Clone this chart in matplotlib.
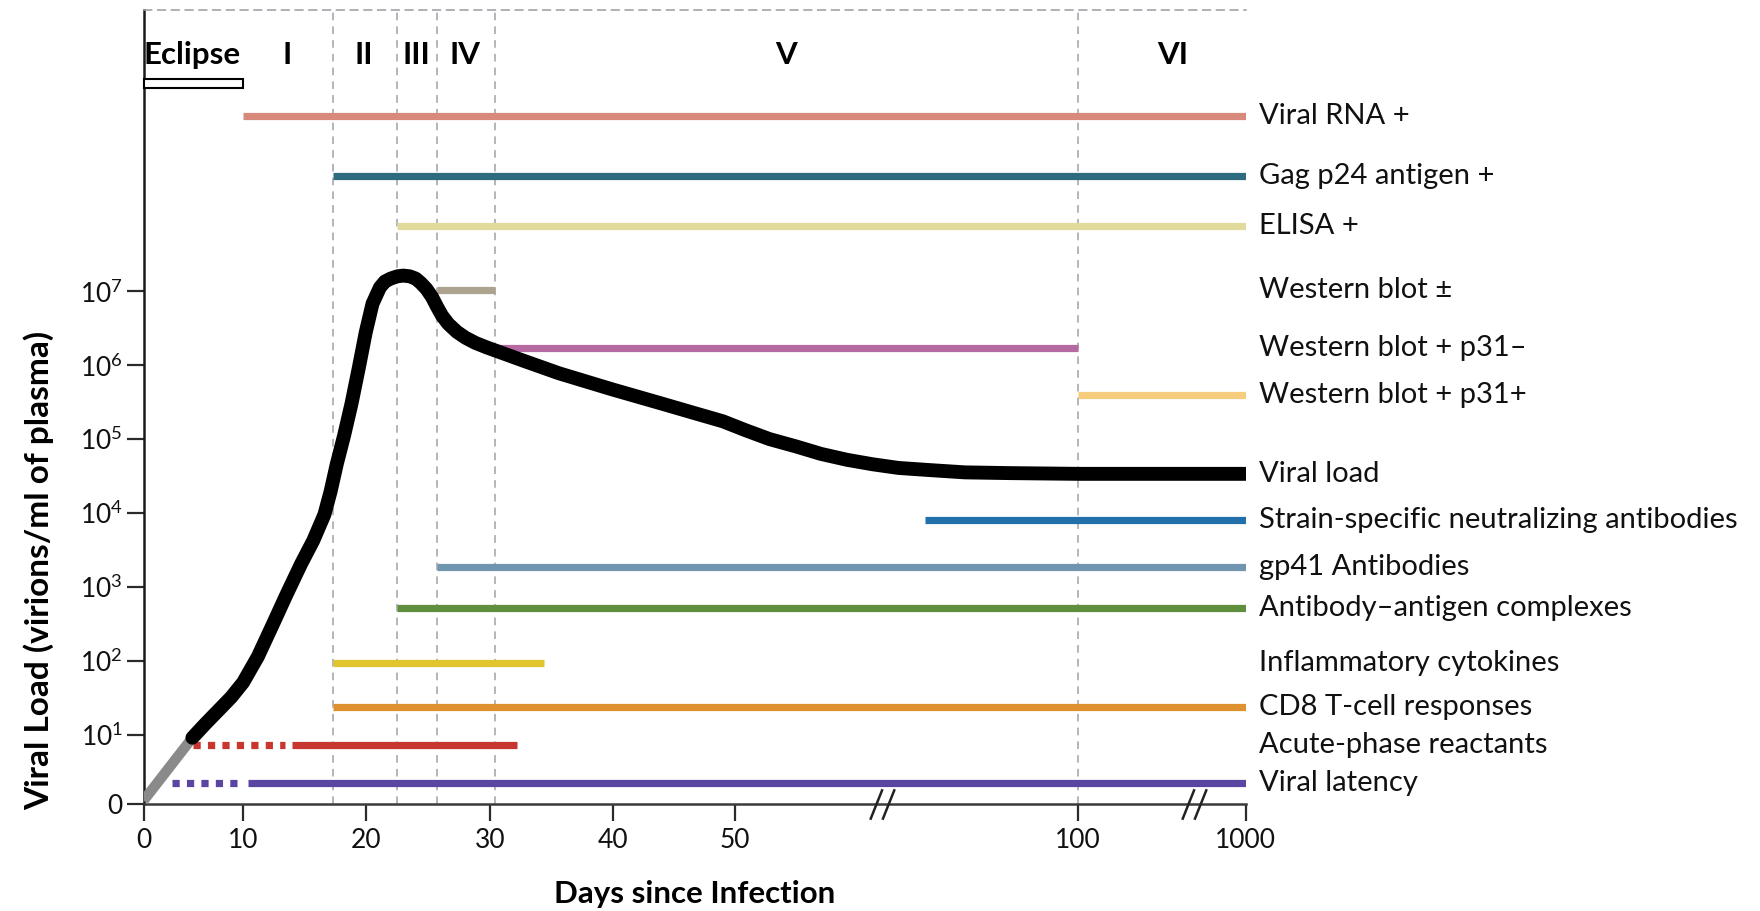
import numpy as np
import matplotlib
matplotlib.use("Agg")
import matplotlib.pyplot as plt
from matplotlib.patches import Rectangle
from matplotlib.path import Path

# ---------------- data ----------------
x_ticks = [0, 10, 20, 30, 40, 50, 100, 1000]
x_ticklabels = ["0", "10", "20", "30", "40", "50", "100", "1000"]
y_ticks = [0, 1, 2, 3, 4, 5, 6, 7]
y_ticklabels = ["0"] + [r"$\mathregular{10^{%d}}$" % k for k in range(1, 8)]

phase_names = ["I", "II", "III", "IV", "V", "VI"]
phase_label_days = [13.6, 19.8, 24.0, 28.0, 57.4, 610]
phase_bounds = [17.26, 22.5, 25.7, 30.4, 100]
eclipse_days = [0, 10]
break_days = [71.4, 723]

marker_names = ["Viral RNA +", "Gag p24 antigen +", "ELISA +", "Western blot \u00b1",
                "Western blot + p31\u2013", "Western blot + p31+",
                "Strain-specific neutralizing antibodies", "gp41 Antibodies",
                "Antibody\u2013antigen complexes", "Inflammatory cytokines",
                "CD8 T-cell responses", "Acute-phase reactants", "Viral latency"]
marker_start = [10.0, 17.26, 22.5, 25.7, 30.4, 100, 77.7, 25.7, 22.5, 17.26, 17.26, 14.0, 10.4]
marker_end = [1000, 1000, 1000, 30.4, 100, 1000, 1000, 1000, 1000, 34.4, 1000, 32.2, 1000]
marker_level = [9.37, 8.55, 7.88, 7.02, 6.23, 5.60, 3.90, 3.27, 2.72, 1.97, 1.38, 0.86, 0.31]
marker_colors = ["#D78A7C", "#2F6B7E", "#E2DA9C", "#ABA38E", "#B56AA2", "#F5CD7C",
                 "#2270AA", "#7096AF", "#5F8F3C", "#E0C52C", "#E0912F", "#C8372F", "#5A46A0"]

# dotted lead-in segments (Acute-phase reactants, Viral latency)
dotted_names = ["Acute-phase reactants", "Viral latency"]
dotted_start = [5.0, 2.9]
dotted_end = [13.4, 9.6]

viral_load_label = "Viral load"
viral_load_level = 4.53

# viral load curve (log10 virions/ml) vs days
curve_early_days = [0.0, 4.9]
curve_early_log = [0.05, 0.96]
curve_days = [4.9, 6.2, 7.5, 8.8, 10.0, 11.2, 12.4, 13.5, 14.7, 15.7, 16.6, 17.1, 17.6,
              18.2, 18.8, 19.4, 19.95, 20.5, 21.1, 21.5, 21.97, 22.5, 22.98, 23.5, 23.98,
              24.4, 24.85, 25.3, 25.7, 26.1, 26.6, 27.3, 28.0, 28.8, 29.7, 31.2, 32.7,
              35.6, 40.0, 44.0, 46.7, 49.0, 51.5, 55.0, 58.9, 62.5, 66.3, 70.0, 73.8,
              78.5, 83.5, 90.0, 100, 1000]
curve_log = [0.96, 1.15, 1.33, 1.51, 1.71, 2.06, 2.49, 2.89, 3.31, 3.63, 3.98, 4.29, 4.66,
             5.05, 5.48, 5.97, 6.44, 6.83, 7.05, 7.13, 7.17, 7.20, 7.21, 7.20, 7.17,
             7.11, 7.03, 6.92, 6.79, 6.67, 6.56, 6.45, 6.37, 6.30, 6.24, 6.15, 6.06,
             5.89, 5.67, 5.48, 5.35, 5.24, 5.12, 5.00, 4.90, 4.80, 4.72, 4.66, 4.61,
             4.58, 4.55, 4.54, 4.53, 4.53]

# ---------------- axis scales ----------------
_XD = np.array([0, 10, 20, 30, 40, 50, 100, 1000], float)
_XP = np.array([0, 99.5, 222.7, 346.7, 469.1, 591.6, 934.4, 1102.0])


def x_fwd(x):
    return np.interp(x, _XD, _XP)


def x_inv(p):
    return np.interp(p, _XP, _XD)


_YD = np.array([-1, 0, 1, 20], float)
_YP = np.array([-69, 0, 69, 69 + 19 * 74], float)


def y_fwd(v):
    return np.interp(v, _YD, _YP)


def y_inv(p):
    return np.interp(p, _YP, _YD)


FONT = "Lato"
plt.rcParams["font.family"] = [FONT, "DejaVu Sans"]
plt.rcParams["mathtext.fontset"] = "custom"
plt.rcParams["mathtext.rm"] = FONT
plt.rcParams["mathtext.it"] = FONT
plt.rcParams["mathtext.bf"] = FONT + ":bold"

fig = plt.figure(figsize=(17.6, 9.11), dpi=100)
ax = fig.add_axes([0.0816, 0.1175, 0.6261, 0.8715])
ax.set_xscale("function", functions=(x_fwd, x_inv))
ax.set_yscale("function", functions=(y_fwd, y_inv))
ax.set_xlim(0, 1000)
ax.set_ylim(0, 10.80)

# spines
ax.spines["right"].set_visible(False)
ax.spines["left"].set_color("#1a1a1a")
ax.spines["left"].set_linewidth(1.8)
ax.spines["bottom"].set_color("#3a3a3a")
ax.spines["bottom"].set_linewidth(1.8)
ax.spines["top"].set_color("#9a9aa2")
ax.spines["top"].set_linewidth(1.1)
ax.spines["top"].set_linestyle((0, (5, 4)))

ax.set_xticks(x_ticks)
ax.set_xticklabels(x_ticklabels)
ax.set_yticks(y_ticks)
ax.set_yticklabels(y_ticklabels)
ax.xaxis.set_minor_locator(matplotlib.ticker.NullLocator())
ax.yaxis.set_minor_locator(matplotlib.ticker.NullLocator())
ax.tick_params(axis="both", direction="out", length=12, width=1.6, color="#2a2a2a",
               labelsize=19, labelcolor="#111111")
ax.tick_params(axis="x", pad=5)
ax.tick_params(axis="y", pad=3)

# phase boundaries
for d in phase_bounds:
    ax.axvline(d, color="#a0a0aa", lw=1.1, ls=(0, (5, 4)), zorder=1)

# marker bars
for name, s, e, lev, c in zip(marker_names, marker_start, marker_end, marker_level, marker_colors):
    ax.plot([s, e], [lev, lev], color=c, lw=5.2, solid_capstyle="butt", zorder=2)
    ax.annotate(name, xy=(1000, lev), xytext=(10, 0), textcoords="offset points",
                va="center", ha="left", fontsize=21, color="#111111",
                annotation_clip=False)

# dotted lead-ins
for name, s, e in zip(dotted_names, dotted_start, dotted_end):
    i = marker_names.index(name)
    ax.plot([s, e], [marker_level[i], marker_level[i]], color=marker_colors[i], lw=5.2,
            ls=(0, (1, 1)), dash_capstyle="butt", zorder=2)

# viral load curve
ax.plot(curve_early_days, curve_early_log, color="#8a8a8a", lw=7.5,
        solid_capstyle="butt", zorder=3)
ax.plot(curve_days, curve_log, color="black", lw=10, solid_capstyle="round",
        solid_joinstyle="round", zorder=4)
ax.annotate(viral_load_label, xy=(1000, viral_load_level), xytext=(10, 0),
            textcoords="offset points", va="center", ha="left", fontsize=21,
            color="#111111", annotation_clip=False)

# eclipse box and phase labels
ax.add_patch(Rectangle((eclipse_days[0], 9.74), eclipse_days[1] - eclipse_days[0], 0.125,
                       facecolor="white", edgecolor="black", lw=1.5, zorder=3,
                       clip_on=False))
ax.text(eclipse_days[0], 10.19, "Eclipse", ha="left", va="center", fontsize=22.5,
        fontweight="bold", color="black")
for name, d in zip(phase_names, phase_label_days):
    ax.text(d, 10.19, name, ha="center", va="center", fontsize=22.5,
            fontweight="bold", color="black")

# axis breaks
brk = Path([(-0.8, -1), (0.0, 1), (-0.0, -1), (0.8, 1)],
           [Path.MOVETO, Path.LINETO, Path.MOVETO, Path.LINETO])
ax.plot(break_days, [0, 0], ls="none", marker=brk, markersize=22,
        markerfacecolor="none", markeredgecolor="#222222", markeredgewidth=1.8,
        clip_on=False, zorder=5)

ax.set_xlabel("Days since Infection", fontsize=22.5, fontweight="bold", labelpad=20)
ax.set_ylabel("Viral Load (virions/ml of plasma)", fontsize=24, fontweight="bold")
ax.yaxis.set_label_coords(-0.0813, 0.2935)

fig.savefig("out.png", dpi=100)
